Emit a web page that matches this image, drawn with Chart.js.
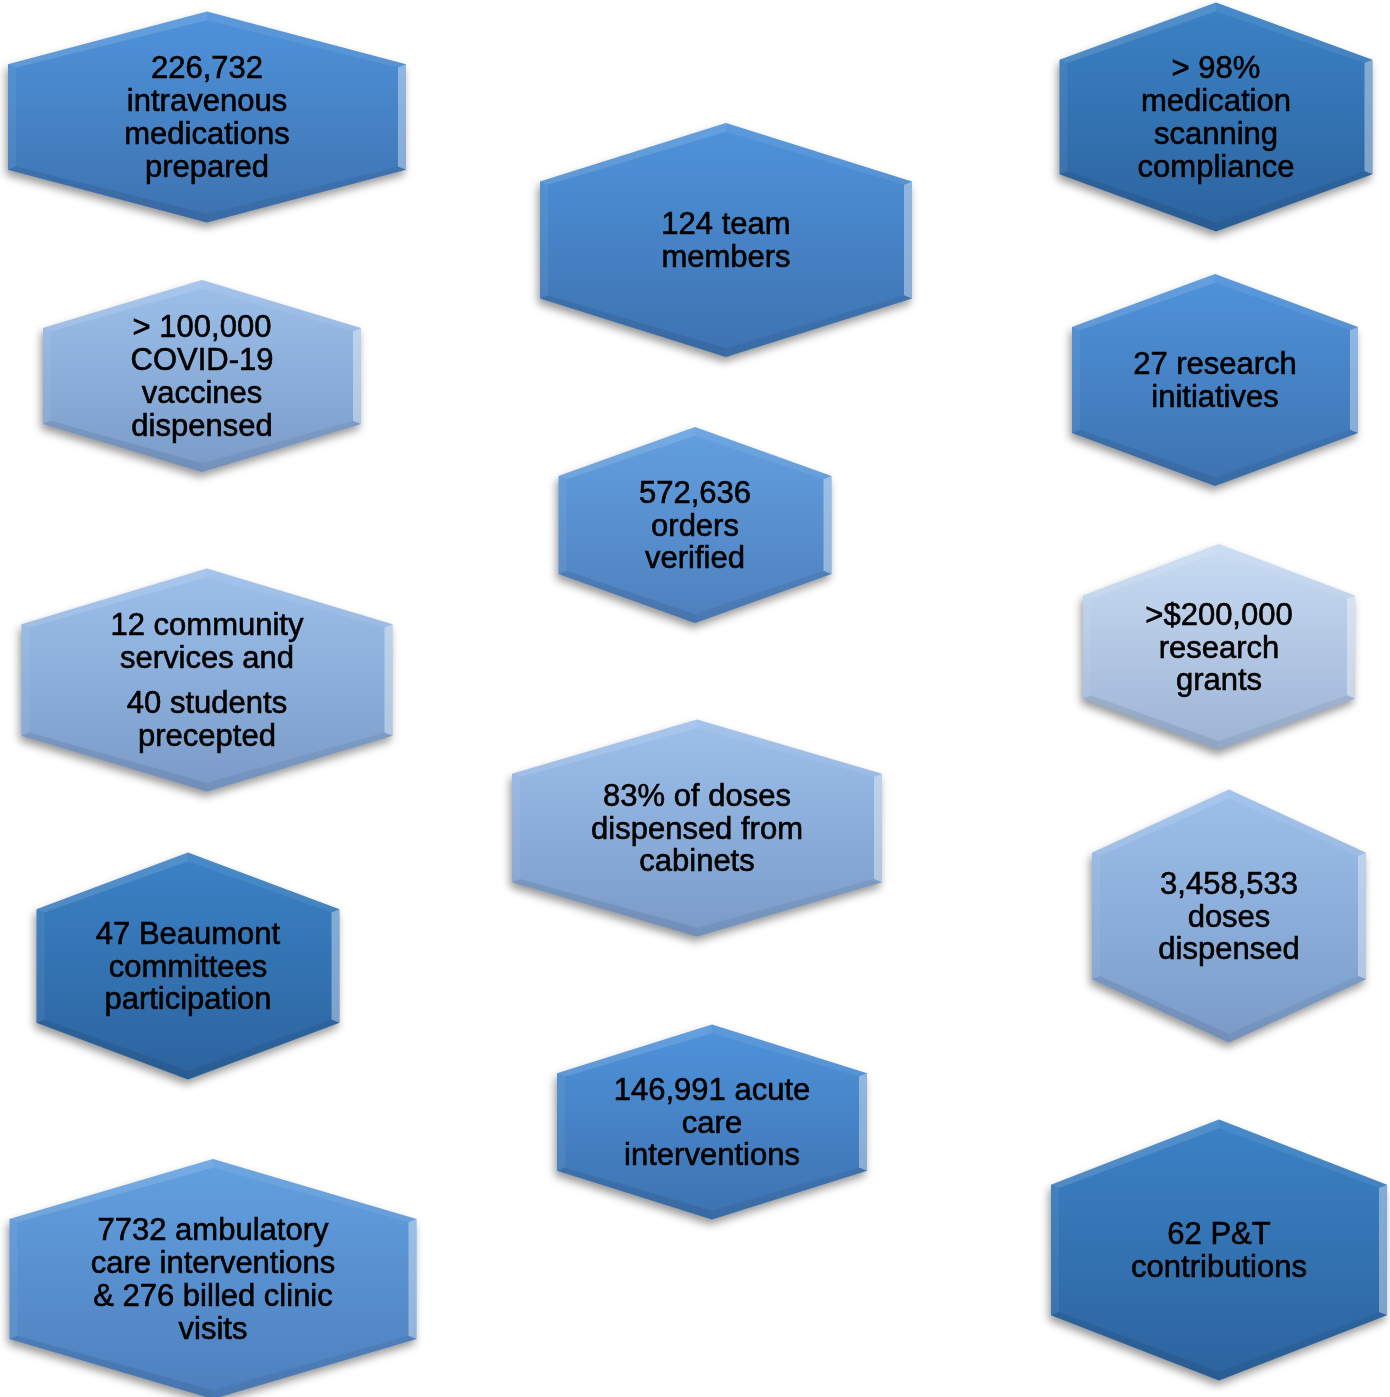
<!DOCTYPE html>
<html>
<head>
<meta charset="utf-8">
<script src="https://cdn.jsdelivr.net/npm/chart.js@4/dist/chart.umd.min.js"></script>
<style>
  body { margin: 0; background: #fff; }
  #wrap { width: 1390px; height: 1397px; }
</style>
</head>
<body>
<div id="wrap"><canvas id="hexChart" width="1390" height="1397"></canvas></div>
<script>
// text of each hexagon ("" = paragraph break)
const hexLabels = [
    ["226,732", "intravenous", "medications", "prepared"],
    ["> 98%", "medication", "scanning", "compliance"],
    ["124 team", "members"],
    ["> 100,000", "COVID-19", "vaccines", "dispensed"],
    ["27 research", "initiatives"],
    ["572,636", "orders", "verified"],
    ["12 community", "services and", "", "40 students", "precepted"],
    [">$200,000", "research", "grants"],
    ["83% of doses", "dispensed from", "cabinets"],
    ["3,458,533", "doses", "dispensed"],
    ["47 Beaumont", "committees", "participation"],
    ["146,991 acute", "care", "interventions"],
    ["7732 ambulatory", "care interventions", "& 276 billed clinic", "visits"],
    ["62 P&T", "contributions"]
];
// centre of each hexagon, in layout units
const hexX = [207, 1216, 726, 202, 1215, 695, 207, 1219, 697, 1229, 188, 712, 213, 1219];
const hexY = [117, 117, 240, 376, 380, 525, 680, 647, 828, 916, 966, 1122, 1279, 1250];
// extent of each hexagon
const hexW = [398, 313, 372, 318, 286, 273, 371, 272, 370, 274, 303, 310, 407, 336];
const hexH = [211, 229, 234, 192, 212, 196, 223, 206, 217, 253, 227, 195, 240, 261];
// shade group of each hexagon
const hexTone = ["medium", "dark", "medium", "light", "medium", "soft", "light",
                 "pale", "light", "light", "dark", "medium", "soft", "dark"];

const toneColors = {
    dark:   ["#3B82C6", "#2C639E"],
    medium: ["#4F93DB", "#3D72B0"],
    soft:   ["#62A0E0", "#4E7FBD"],
    light:  ["#9DC0EB", "#7A9BC8"],
    pale:   ["#C9DCF3", "#9DB3D4"]
};

const hexPlugin = {
    id: 'hexagons',
    beforeDatasetsDraw(chart) {
        const ctx = chart.ctx;
        const xs = chart.scales.x, ys = chart.scales.y;
        const meta = chart.getDatasetMeta(0);
        meta.data.forEach((pt, i) => {
            const cx = pt.x, cy = pt.y;
            const l = xs.getPixelForValue(hexX[i] - hexW[i] / 2);
            const r = xs.getPixelForValue(hexX[i] + hexW[i] / 2);
            const t = ys.getPixelForValue(hexY[i] - hexH[i] / 2);
            const b = ys.getPixelForValue(hexY[i] + hexH[i] / 2);
            const q = (b - t) / 4;
            const outer = [[cx, t], [r, t + q], [r, b - q], [cx, b], [l, b - q], [l, t + q]];
            const d = 8;
            const inner = [[cx, t + d * 1.1], [r - d, t + q + d * 0.4], [r - d, b - q - d * 0.4],
                           [cx, b - d * 1.1], [l + d, b - q - d * 0.4], [l + d, t + q + d * 0.4]];
            const poly = (pts) => {
                ctx.beginPath();
                pts.forEach((p, k) => k ? ctx.lineTo(p[0], p[1]) : ctx.moveTo(p[0], p[1]));
                ctx.closePath();
            };
            const cols = toneColors[hexTone[i]];
            const grad = ctx.createLinearGradient(0, t, 0, b);
            grad.addColorStop(0, cols[0]);
            grad.addColorStop(1, cols[1]);

            // body with soft drop shadow
            ctx.save();
            ctx.shadowColor = 'rgba(0,0,0,0.4)';
            ctx.shadowBlur = 9;
            ctx.shadowOffsetX = -2;
            ctx.shadowOffsetY = 5;
            poly(outer);
            ctx.fillStyle = grad;
            ctx.fill();
            ctx.restore();

            // bevel facets
            const facet = ['rgba(255,255,255,0.07)', 'rgba(255,255,255,0.38)', 'rgba(0,0,0,0.06)',
                           'rgba(0,0,0,0.08)', 'rgba(255,255,255,0.06)', 'rgba(255,255,255,0.12)'];
            for (let k = 0; k < 6; k++) {
                const n = (k + 1) % 6;
                poly([outer[k], outer[n], inner[n], inner[k]]);
                ctx.fillStyle = facet[k];
                ctx.fill();
            }

            // text, slightly thickened to look like the heavier original face
            const lines = hexLabels[i];
            const lh = 32.7, gap = 12;
            let total = 0;
            lines.forEach(s => total += s === "" ? gap : lh);
            let y = cy - total / 2;
            ctx.fillStyle = '#000';
            ctx.strokeStyle = '#000';
            ctx.lineWidth = 0.6;
            ctx.font = '31px "Liberation Sans", Arial, sans-serif';
            ctx.textAlign = 'center';
            ctx.textBaseline = 'middle';
            lines.forEach(s => {
                if (s === "") { y += gap; return; }
                ctx.fillText(s, cx, y + lh / 2 + 2);
                ctx.strokeText(s, cx, y + lh / 2 + 2);
                y += lh;
            });
        });
    }
};

new Chart(document.getElementById('hexChart'), {
    type: 'scatter',
    data: {
        datasets: [{
            data: hexX.map((x, i) => ({ x: x, y: hexY[i] })),
            pointRadius: 0,
            pointHoverRadius: 0
        }]
    },
    options: {
        responsive: false,
        animation: false,
        layout: { padding: 0 },
        events: [],
        plugins: { legend: { display: false }, tooltip: { enabled: false } },
        scales: {
            x: { type: 'linear', min: 0, max: 1390, display: false },
            y: { type: 'linear', min: 0, max: 1397, reverse: true, display: false }
        }
    },
    plugins: [hexPlugin]
});
</script>
</body>
</html>
